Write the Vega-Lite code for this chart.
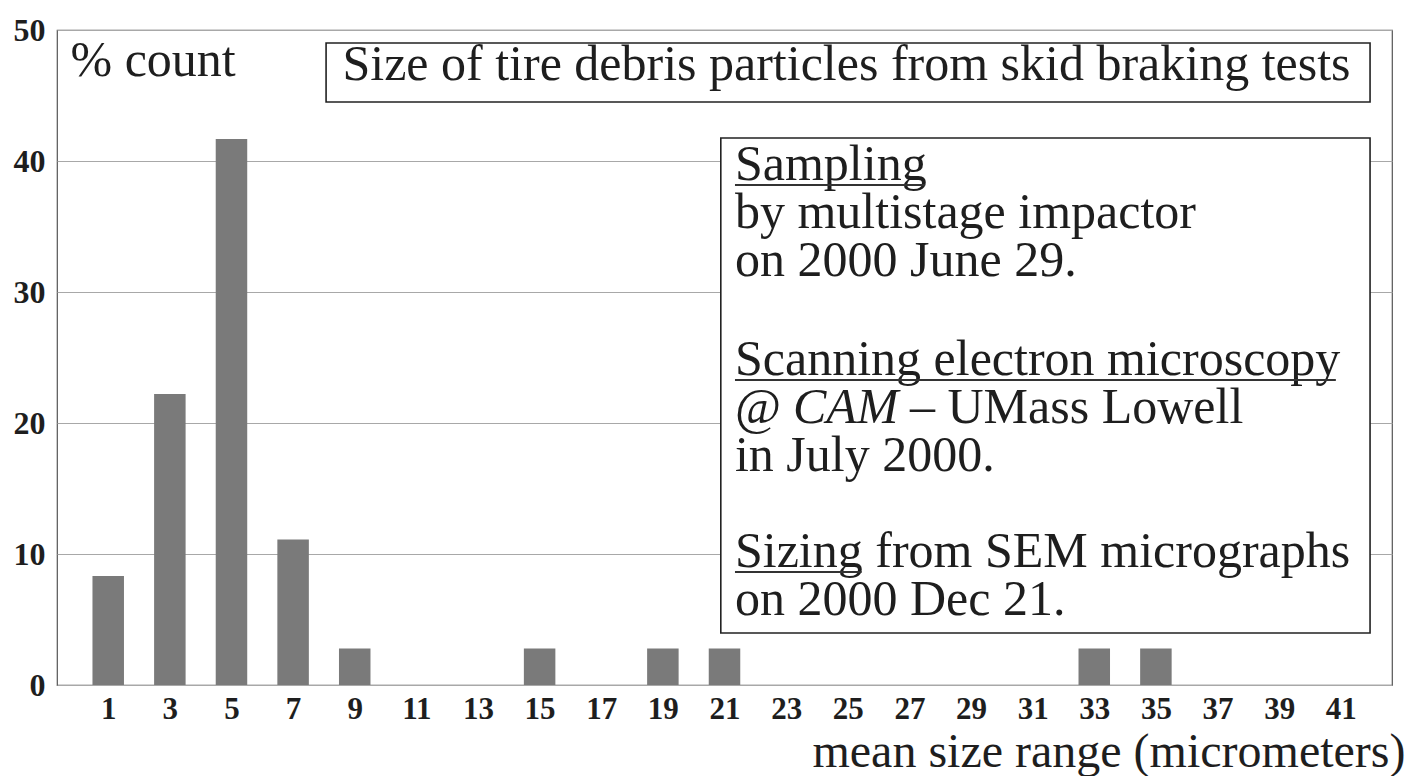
{
  "$schema": "https://vega.github.io/schema/vega-lite/v6.json",
  "width": 1335,
  "height": 655,
  "autosize": {"type": "none"},
  "padding": {"left": 57, "top": 30, "right": 25, "bottom": 91},
  "background": "white",
  "config": {
    "view": {"stroke": "#555", "strokeWidth": 1.2},
    "font": "Liberation Serif",
    "text": {"font": "Liberation Serif", "color": "#1e1e1e"}
  },
  "layer": [
    {
      "data": {
        "values": [
          {"size": 1, "pct": 8.33},
          {"size": 3, "pct": 22.22},
          {"size": 5, "pct": 41.67},
          {"size": 7, "pct": 11.11},
          {"size": 9, "pct": 2.78},
          {"size": 11, "pct": 0},
          {"size": 13, "pct": 0},
          {"size": 15, "pct": 2.78},
          {"size": 17, "pct": 0},
          {"size": 19, "pct": 2.78},
          {"size": 21, "pct": 2.78},
          {"size": 23, "pct": 0},
          {"size": 25, "pct": 0},
          {"size": 27, "pct": 0},
          {"size": 29, "pct": 0},
          {"size": 31, "pct": 0},
          {"size": 33, "pct": 2.78},
          {"size": 35, "pct": 2.78},
          {"size": 37, "pct": 0},
          {"size": 39, "pct": 0},
          {"size": 41, "pct": 0}
        ]
      },
      "mark": {"type": "bar", "width": 31.5, "fill": "#7a7a7a", "strokeWidth": 0},
      "encoding": {
        "x": {
          "field": "size",
          "type": "quantitative",
          "scale": {"domain": [-0.5, 42.5], "nice": false, "zero": false},
          "axis": {
            "values": [1, 3, 5, 7, 9, 11, 13, 15, 17, 19, 21, 23, 25, 27, 29, 31, 33, 35, 37, 39, 41],
            "format": "d",
            "grid": false,
            "ticks": false,
            "domain": false,
            "labelFont": "Liberation Serif",
            "labelFontWeight": "bold",
            "labelFontSize": 31,
            "labelColor": "#1e1e1e",
            "labelPadding": 9,
            "labelFlush": false,
            "labelOverlap": false,
            "title": "mean size range (micrometers)",
            "titleFont": "Liberation Serif",
            "titleFontWeight": "normal",
            "titleFontSize": 48,
            "titleColor": "#1e1e1e",
            "titleAlign": "right",
            "titleBaseline": "alphabetic",
            "titleX": 1348,
            "titleY": 81
          }
        },
        "y": {
          "field": "pct",
          "type": "quantitative",
          "scale": {"domain": [0, 50], "nice": false},
          "axis": {
            "values": [0, 10, 20, 30, 40, 50],
            "grid": true,
            "gridColor": "#a8a8a8",
            "gridWidth": 1,
            "ticks": false,
            "domain": false,
            "labelFont": "Liberation Serif",
            "labelFontWeight": "bold",
            "labelFontSize": 32,
            "labelColor": "#1e1e1e",
            "labelPadding": 12,
            "labelFlush": false,
            "title": "% count",
            "titleFont": "Liberation Serif",
            "titleAngle": 0,
            "titleAlign": "left",
            "titleBaseline": "alphabetic",
            "titleX": 13,
            "titleY": 45,
            "titleFontSize": 50,
            "titleFontWeight": "normal",
            "titleColor": "#1e1e1e"
          }
        }
      }
    },
    {
      "data": {"values": [{}]},
      "mark": {"type": "rect", "fill": "white", "stroke": "#222", "strokeWidth": 1.6},
      "encoding": {
        "x": {"datum": 8.07}, "x2": {"datum": 41.95},
        "y": {"datum": 49.01}, "y2": {"datum": 44.5}
      }
    },
    {
      "data": {"values": [{}]},
      "mark": {"type": "text", "text": "Size of tire debris particles from skid braking tests", "fontSize": 50, "align": "center", "baseline": "alphabetic"},
      "encoding": {"x": {"datum": 24.96}, "y": {"datum": 46.18}}
    },
    {
      "data": {"values": [{}]},
      "mark": {"type": "rect", "fill": "white", "stroke": "#222", "strokeWidth": 1.6},
      "encoding": {
        "x": {"datum": 20.88}, "x2": {"datum": 41.95},
        "y": {"datum": 41.76}, "y2": {"datum": 3.97}
      }
    },
    {
      "data": {"values": [{}]},
      "mark": {"type": "text", "text": ["Sampling", "by multistage impactor", "on 2000 June 29."], "lineHeight": 48, "fontSize": 50, "align": "left", "baseline": "alphabetic"},
      "encoding": {"x": {"datum": 21.34}, "y": {"datum": 38.55}}
    },
    {
      "data": {"values": [{}]},
      "mark": {"type": "text", "text": "Scanning electron microscopy", "fontSize": 50, "align": "left", "baseline": "alphabetic"},
      "encoding": {"x": {"datum": 21.34}, "y": {"datum": 23.66}}
    },
    {
      "data": {"values": [{}]},
      "mark": {"type": "text", "text": "@", "fontSize": 50, "align": "left", "baseline": "alphabetic"},
      "encoding": {"x": {"datum": 21.34}, "y": {"datum": 20.0}}
    },
    {
      "data": {"values": [{}]},
      "mark": {"type": "text", "text": "CAM", "fontSize": 50, "fontStyle": "italic", "align": "left", "baseline": "alphabetic"},
      "encoding": {"x": {"datum": 23.22}, "y": {"datum": 20.0}}
    },
    {
      "data": {"values": [{}]},
      "mark": {"type": "text", "text": "– UMass Lowell", "fontSize": 50, "align": "left", "baseline": "alphabetic"},
      "encoding": {"x": {"datum": 27.02}, "y": {"datum": 20.0}}
    },
    {
      "data": {"values": [{}]},
      "mark": {"type": "text", "text": "in July 2000.", "fontSize": 50, "align": "left", "baseline": "alphabetic"},
      "encoding": {"x": {"datum": 21.34}, "y": {"datum": 16.34}}
    },
    {
      "data": {"values": [{}]},
      "mark": {"type": "text", "text": ["Sizing from SEM micrographs", "on 2000 Dec 21."], "lineHeight": 48, "fontSize": 50, "align": "left", "baseline": "alphabetic"},
      "encoding": {"x": {"datum": 21.34}, "y": {"datum": 9.01}}
    },
    {
      "data": {"values": [{}]},
      "mark": {"type": "rule", "stroke": "#333", "strokeWidth": 2},
      "encoding": {"x": {"datum": 21.34}, "x2": {"datum": 27.51}, "y": {"datum": 38.17}}
    },
    {
      "data": {"values": [{}]},
      "mark": {"type": "rule", "stroke": "#333", "strokeWidth": 2},
      "encoding": {"x": {"datum": 21.34}, "x2": {"datum": 40.84}, "y": {"datum": 23.28}}
    },
    {
      "data": {"values": [{}]},
      "mark": {"type": "rule", "stroke": "#333", "strokeWidth": 2},
      "encoding": {"x": {"datum": 21.34}, "x2": {"datum": 25.45}, "y": {"datum": 8.63}}
    }
  ]
}
